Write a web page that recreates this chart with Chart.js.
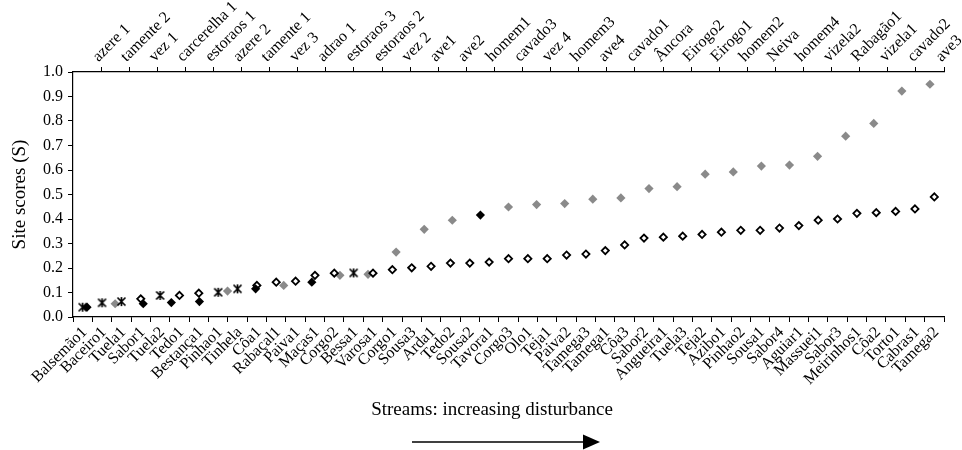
<!DOCTYPE html>
<html>
<head>
<meta charset="utf-8">
<script src="https://cdn.jsdelivr.net/npm/chart.js@4.4.0/dist/chart.umd.min.js"></script>
<style>
  html, body { margin: 0; padding: 0; background: #fff; }
</style>
</head>
<body>
<canvas id="canvas" width="962" height="450"></canvas>
<script>
// bottom axis: streams, ordered by increasing disturbance
const bottomSites = ['Balsemão1','Baceiro1','Tuela1','Sabor1','Tuela2','Tedo1','Bestança1','Pinhao1','Tinhela','Côa1',
  'Rabaçal1','Paiva1','Maças1','Corgo2','Bessa1','Varosa1','Corgo1','Sousa3','Arda1','Tedo2',
  'Sousa2','Tavora1','Corgo3','Olo1','Teja1','Paiva2','Tamega3','Tamega1','Côa3','Sabor2',
  'Angueira1','Tuela3','Teja2','Azibo1','Pinhao2','Sousa1','Sabor4','Aguiar1','Massuei1','Sabor3',
  'Meirinhos1','Côa2','Torto1','Cabras1','Tamega2'];
const bottomScores = [0.040,0.058,0.063,0.074,0.088,0.088,0.097,0.101,0.115,0.129,
  0.142,0.146,0.170,0.179,0.180,0.179,0.193,0.201,0.207,0.220,
  0.220,0.224,0.238,0.238,0.238,0.253,0.257,0.271,0.294,0.322,
  0.326,0.330,0.337,0.346,0.354,0.354,0.363,0.373,0.395,0.400,
  0.423,0.426,0.431,0.441,0.490];
// 1 = star marker, 0 = open diamond
const bottomRef = [1,1,1,0,1,0,0,1,1,0, 0,0,0,0,1,0,0,0,0,0, 0,0,0,0,0,0,0,0,0,0, 0,0,0,0,0,0,0,0,0,0, 0,0,0,0,0];

// top axis: the other set of sites
const topSites = ['azere 1','tamente 2','vez 1','carcerelha 1','estoraos 1','azere 2','tamente 1','vez 3','adrao 1','estoraos 3',
  'estoraos 2','vez 2','ave1','ave2','homem1','cavado3','vez 4','homem3','ave4','cavado1',
  'Âncora','Eirogo2','Eirogo1','homem2','Neiva','homem4','vizela2','Rabagão1','vizela1','cavado2','ave3'];
const topScores = [0.040,0.054,0.054,0.059,0.063,0.106,0.115,0.129,0.142,0.170,
  0.174,0.265,0.358,0.395,0.416,0.449,0.459,0.463,0.481,0.486,
  0.524,0.532,0.583,0.592,0.616,0.620,0.656,0.738,0.790,0.922,0.950];
// 1 = black diamond, 0 = grey diamond
const topRef = [1,0,1,1,1,0,1,0,1,0, 0,0,0,0,1,0,0,0,0,0, 0,0,0,0,0,0,0,0,0,0,0];

const yTicks = [0,0.1,0.2,0.3,0.4,0.5,0.6,0.7,0.8,0.9,1.0];
const xTitle = 'Streams: increasing disturbance';
const yTitle = 'Site scores (S)';

const FONT = '"Liberation Serif", "Times New Roman", serif';

// asterisk marker (X with a vertical bar)
const star = document.createElement('canvas');
star.width = 11; star.height = 11;
let g = star.getContext('2d');
g.strokeStyle = '#000';
g.lineWidth = 1.7;
g.beginPath();
g.moveTo(1.5, 1.5); g.lineTo(9.5, 9.5);
g.moveTo(9.5, 1.5); g.lineTo(1.5, 9.5);
g.moveTo(5.5, 1); g.lineTo(5.5, 10);
g.stroke();

// the lower title and the arrow under the chart
const footer = {
    id: 'footer',
    afterDraw(chart) {
        const ctx = chart.ctx;
        ctx.save();
        ctx.fillStyle = '#000';
        ctx.font = '19px ' + FONT;
        ctx.textAlign = 'center';
        ctx.textBaseline = 'middle';
        ctx.fillText(xTitle, 492, 410);
        ctx.strokeStyle = '#000';
        ctx.lineWidth = 1.3;
        ctx.beginPath();
        ctx.moveTo(412, 442);
        ctx.lineTo(586, 442);
        ctx.stroke();
        ctx.beginPath();
        ctx.moveTo(600, 442);
        ctx.lineTo(583, 434.5);
        ctx.lineTo(583, 449.5);
        ctx.closePath();
        ctx.fill();
        ctx.restore();
    }
};

let tickFont = {family: FONT, size: 16};
let gridOpts = {drawOnChartArea: false, drawTicks: true, tickLength: 5, color: '#000', lineWidth: 1};

var ctx = document.getElementById('canvas').getContext('2d');
let myChart = new Chart(ctx, {
    type: 'line',
    data: {
        labels: bottomSites,
        datasets: [{
            label: 'reference streams',
            data: bottomScores.map((v, i) => bottomRef[i] ? v : null),
            showLine: false,
            pointStyle: star,
            pointRadius: 5,
            order: 1
        }, {
            label: 'streams',
            data: bottomScores.map((v, i) => bottomRef[i] ? null : v),
            showLine: false,
            pointStyle: 'rectRot',
            pointRadius: 3.6,
            pointBorderWidth: 1.8,
            pointBackgroundColor: '#fff',
            pointBorderColor: '#000',
            order: 2
        }, {
            label: 'top reference',
            xAxisID: 'x2',
            data: topScores.map((v, j) => ({x: j + 0.5, y: topRef[j] ? v : null})),
            showLine: false,
            pointStyle: 'rectRot',
            pointRadius: 4.6,
            pointBorderWidth: 0,
            pointBackgroundColor: '#000',
            order: 0
        }, {
            label: 'top sites',
            xAxisID: 'x2',
            data: topScores.map((v, j) => ({x: j + 0.5, y: topRef[j] ? null : v})),
            showLine: false,
            pointStyle: 'rectRot',
            pointRadius: 4.6,
            pointBorderWidth: 0,
            pointBackgroundColor: '#8a8a8a',
            order: 3
        }]
    },
    options: {
        responsive: false,
        animation: false,
        layout: {padding: {left: 0, right: 18, top: 0, bottom: 0}},
        plugins: {legend: {display: false}, tooltip: {enabled: false}},
        scales: {
            x: {
                type: 'category',
                position: 'bottom',
                offset: true,
                grid: Object.assign({offset: true}, gridOpts),
                border: {color: '#000', width: 1.2},
                ticks: {autoSkip: false, minRotation: 45, maxRotation: 45, padding: 1, labelOffset: 2, color: '#000', font: tickFont},
                afterFit(a) { a.height = 133; a.paddingLeft = 0; a.paddingRight = 0; }
            },
            x2: {
                type: 'linear',
                position: 'top',
                min: 0,
                max: topSites.length,
                afterBuildTicks(a) { a.ticks = topSites.map((s, j) => ({value: j + 1})); },
                grid: gridOpts,
                border: {color: '#000', width: 1.2},
                ticks: {autoSkip: false, minRotation: 45, maxRotation: 45, padding: 1, labelOffset: 8, color: '#000', font: tickFont,
                    callback: (v) => topSites[v - 1]},
                afterFit(a) { a.height = 72; a.paddingLeft = 0; a.paddingRight = 0; }
            },
            y: {
                min: 0,
                max: 1,
                afterBuildTicks(a) { a.ticks = yTicks.map(v => ({value: v})); },
                grid: gridOpts,
                border: {color: '#000', width: 1.2},
                ticks: {padding: 5, color: '#000', font: tickFont, callback: (v) => v.toFixed(1)},
                title: {display: true, text: yTitle, color: '#000', font: {family: FONT, size: 19}, padding: {top: 9, bottom: 0}},
                afterFit(a) { a.width = 73; a.paddingTop = 0; a.paddingBottom = 0; }
            }
        }
    },
    plugins: [footer]
});
</script>
</body>
</html>
